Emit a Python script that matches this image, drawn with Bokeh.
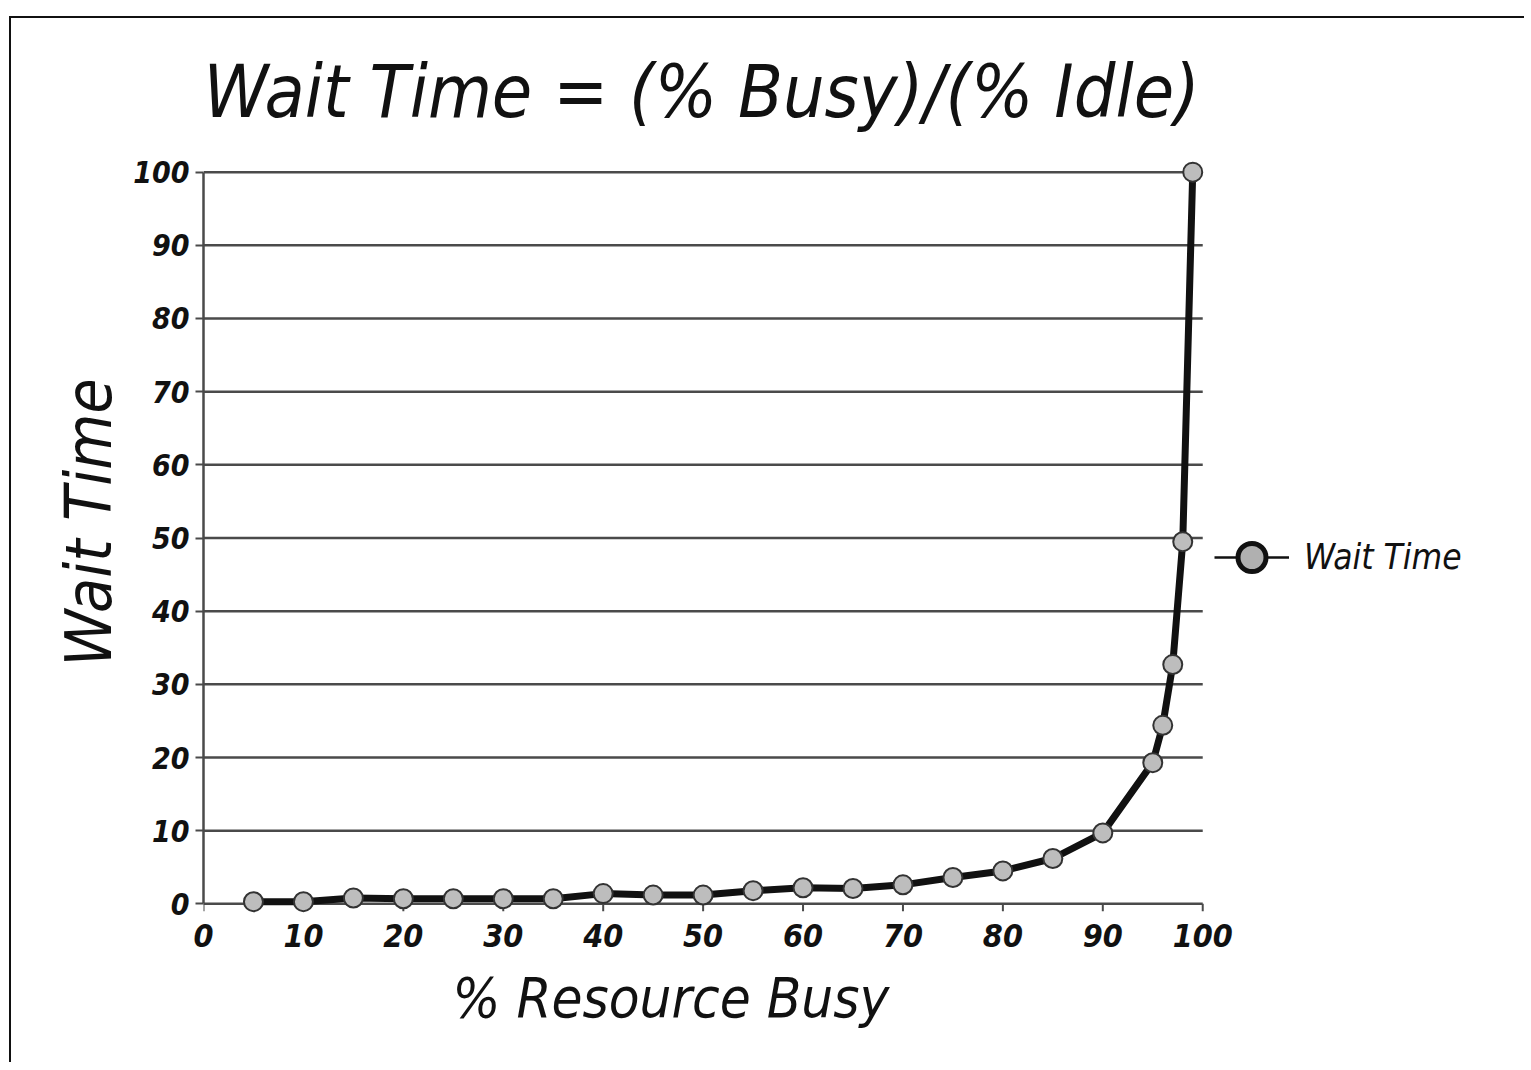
from bokeh.plotting import figure
from bokeh.models import Range1d, FixedTicker, Legend, LegendItem, ColumnDataSource, Title
from bokeh.embed import file_html
from bokeh.resources import INLINE

# ---- data ----
busy_pct = [5, 10, 15, 20, 25, 30, 35, 40, 45, 50, 55, 60, 65, 70, 75, 80, 85, 90, 95, 96, 97, 98, 99]
wait_time = [0.3, 0.3, 0.8, 0.7, 0.7, 0.7, 0.7, 1.4, 1.2, 1.2, 1.8, 2.2, 2.1, 2.6, 3.6, 4.5, 6.2, 9.7, 19.3, 24.4, 32.7, 49.5, 100]
x_ticks = [0, 10, 20, 30, 40, 50, 60, 70, 80, 90, 100]
y_ticks = [0, 10, 20, 30, 40, 50, 60, 70, 80, 90, 100]

title_text = "Wait Time = (% Busy)/(% Idle)"
x_label = "%  Resource Busy"
y_label = "Wait  Time"
series_name = "Wait Time"

FONT = "DejaVu Sans Condensed, Open Sans"
INK = "#111111"
GRID = "#4a4a4a"

X_MIN, X_MAX = x_ticks[0], x_ticks[-1]

src = ColumnDataSource(data=dict(x=busy_pct, y=wait_time))
tick_src = ColumnDataSource(data=dict(x=x_ticks, y0=[0] * len(x_ticks), y1=[-1] * len(x_ticks)))
grid_src = ColumnDataSource(data=dict(x0=[X_MIN] * len(y_ticks), x1=[X_MAX] * len(y_ticks), y=y_ticks))

# the frame is extended to the right (to 130) so that the legend can sit beside the plotted area
p = figure(width=1515, height=1046, output_backend="svg", toolbar_location=None,
           x_range=Range1d(0, 130), y_range=Range1d(-2, 102),
           min_border_left=192, min_border_right=24, min_border_top=139, min_border_bottom=146)
p.margin = (16, 0, 0, 9)
p.styles = {"border-top": "2px solid #111", "border-left": "2px solid #111"}
p.outline_line_color = None
p.background_fill_color = "white"
p.border_fill_color = "white"

# title
p.title.text = title_text
p.title.align = "left"
p.title.offset = 0
p.title.text_font = FONT
p.title.text_font_style = "italic"
p.title.text_font_size = "73px"
p.title.text_color = INK
p.title.standoff = 48

# axes
p.xaxis.bounds = (X_MIN, X_MAX)
p.yaxis.bounds = (0, 100)
p.xaxis.ticker = FixedTicker(ticks=x_ticks)
p.yaxis.ticker = FixedTicker(ticks=y_ticks)
for ax in (p.xaxis, p.yaxis):
    ax.minor_tick_line_color = None
    ax.major_label_text_font = FONT
    ax.major_label_text_font_style = "bold italic"
    ax.major_label_text_color = INK
# y axis sits on x = 0
p.yaxis.axis_line_color = GRID
p.yaxis.axis_line_width = 2.5
p.yaxis.major_tick_line_color = GRID
p.yaxis.major_tick_line_width = 2
p.yaxis.major_tick_in = 0
p.yaxis.major_tick_out = 8
# x axis: line and ticks are drawn at y = 0 (grid line + tick segments), labels below
p.xaxis.axis_line_color = None
p.xaxis.major_tick_line_color = None
p.xaxis.major_tick_in = 0
p.xaxis.major_tick_out = 0
p.xaxis.major_label_text_font_size = "32px"
p.yaxis.major_label_text_font_size = "30px"
p.xaxis.major_label_standoff = 5
p.yaxis.major_label_standoff = 6

# axis titles placed as side titles so they can be positioned like the reference
x_title = Title(text=x_label, align="left", offset=249, standoff=27,
                text_font=FONT, text_font_style="italic", text_font_size="56px", text_color=INK)
p.add_layout(x_title, "below")
y_title = Title(text=y_label, align="left", offset=252, standoff=9,
                text_font=FONT, text_font_style="italic", text_font_size="64px", text_color=INK)
p.add_layout(y_title, "left")

# grid lines only across the 0..100 plotting area
p.xgrid.grid_line_color = None
p.ygrid.grid_line_color = None
p.segment(x0="x0", y0="y", x1="x1", y1="y", source=grid_src, line_color=GRID, line_width=2.5)

# x tick marks below the zero line
p.segment(x0="x", y0="y0", x1="x", y1="y1", source=tick_src, line_color=GRID, line_width=2)

# series
p.line("x", "y", source=src, line_color=INK, line_width=7)
p.scatter("x", "y", source=src, size=19, fill_color="#bdbdbd", line_color="#333333", line_width=2)

# legend: dedicated renderers (one point placed off-range, so invisible) for the legend swatch
leg_src = ColumnDataSource(data=dict(x=[-50], y=[-50]))
leg_line = p.line("x", "y", source=leg_src, line_color=INK, line_width=2.5)
leg_pt = p.scatter("x", "y", source=leg_src, size=28, fill_color="#b0b0b0", line_color=INK, line_width=5)
legend = Legend(items=[LegendItem(label=series_name, renderers=[leg_line, leg_pt])],
                location=(1011, 326), orientation="vertical",
                glyph_width=75, glyph_height=70, padding=0, margin=0, spacing=0,
                label_standoff=15, label_text_font=FONT, label_text_font_style="italic",
                label_text_font_size="35px", label_text_color=INK,
                background_fill_alpha=0, border_line_alpha=0)
p.add_layout(legend, "center")

open("out.html", "w").write(file_html(p, INLINE))
